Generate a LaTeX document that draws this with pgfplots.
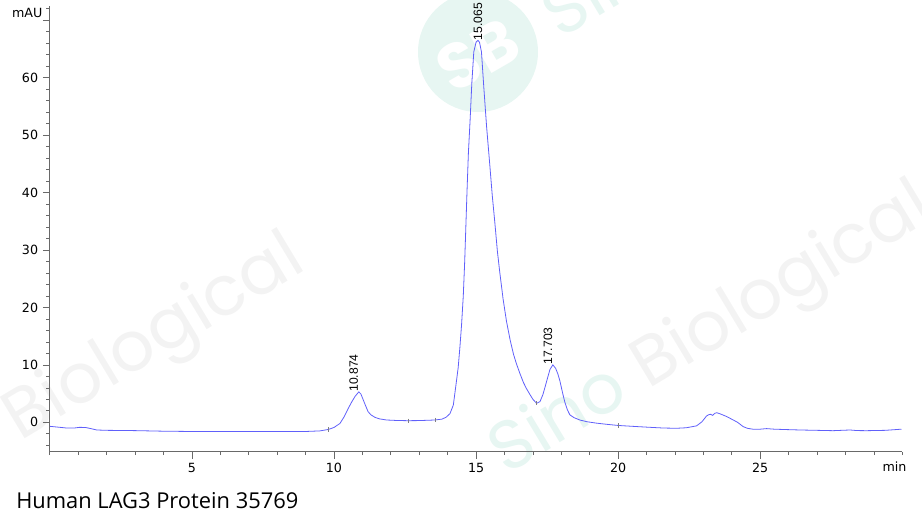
\documentclass[border=0pt]{standalone}
\usepackage{fontspec}
\setmainfont{DejaVu Sans}
\newfontfamily\peakfont{Liberation Sans}
\newfontfamily\titlefont{Open Sans}
\newfontfamily\wmfont{Poppins}
\usepackage{pgfplots}
\usepackage{pgfplotstable}
\pgfplotsset{compat=1.18}

\definecolor{trace}{RGB}{96,96,250}
\definecolor{mint}{RGB}{231,246,242}
\definecolor{wmgray}{RGB}{243,243,243}
\definecolor{axisgray}{RGB}{105,105,105}

% retention time (min), absorbance (mAU)
\pgfplotstableread{
t      mAU
0.00   -0.70
0.30   -0.85
0.60   -1.00
0.85   -1.00
1.05   -0.88
1.25   -0.90
1.45   -1.10
1.65   -1.34
2.00   -1.40
3.00   -1.45
4.00   -1.55
5.00   -1.60
6.00   -1.62
7.00   -1.62
8.00   -1.60
9.00   -1.60
9.50   -1.50
9.80   -1.25
10.00  -0.90
10.21  -0.20
10.35   0.90
10.50   2.40
10.62   3.50
10.74   4.50
10.874  5.30
10.95   4.90
11.03   3.90
11.12   2.80
11.20   1.85
11.30   1.30
11.44   0.87
11.60   0.60
11.85   0.40
12.20   0.32
12.60   0.28
13.00   0.30
13.55   0.40
13.80   0.55
13.95   0.90
14.08   1.50
14.20   3.00
14.30   6.80
14.37   9.50
14.43  13.00
14.49  17.00
14.55  22.00
14.60  28.00
14.64  34.00
14.68  40.00
14.73  46.90
14.79  52.60
14.85  59.00
14.92  64.50
15.00  66.20
15.065 66.50
15.12  66.20
15.19  64.50
15.27  58.50
15.37  51.50
15.48  45.00
15.57  39.50
15.66  34.80
15.75  29.80
15.83  26.30
15.95  21.50
16.07  17.60
16.20  14.30
16.32  11.80
16.42  10.20
16.55   8.40
16.67   6.90
16.77   5.90
16.90   4.80
17.00   4.00
17.13   3.30
17.25   3.60
17.35   4.80
17.42   6.00
17.52   7.80
17.60   9.20
17.703 10.00
17.80   9.40
17.88   8.40
17.95   7.20
18.05   5.00
18.13   3.40
18.22   2.10
18.30   1.30
18.45   0.80
18.65   0.40
18.90   0.10
19.24  -0.15
19.60  -0.35
20.00  -0.55
20.50  -0.70
21.10  -0.87
21.60  -1.00
22.06  -1.04
22.40  -0.95
22.76  -0.62
22.95   0.10
23.11   1.10
23.20   1.35
23.26   1.39
23.32   1.20
23.40   1.55
23.47   1.67
23.60   1.45
23.82   1.00
24.05   0.40
24.20   0.00
24.40  -0.75
24.55  -1.05
24.74  -1.20
25.00  -1.20
25.22  -1.10
25.50  -1.20
26.00  -1.28
26.40  -1.34
27.00  -1.40
27.56  -1.46
28.16  -1.34
28.40  -1.44
28.74  -1.46
29.40  -1.40
29.97  -1.20
}\chromdata

% integration event marks on the trace
\pgfplotstableread{
t      mAU
9.80   -1.25
12.60   0.28
13.55   0.40
17.13   3.30
20.00  -0.55
}\eventmarks

\begin{document}
\begin{tikzpicture}
% image pixel frame: x right, y down; (49.8,451.7) is the axis corner
\begin{scope}[x=0.75pt, y=-0.75pt, shift={(-37.35pt,338.775pt)}]
  \path[use as bounding box] (0,0) rectangle (922,525);
  % watermarks
  \fill[mint] (478,52) circle (60);
  \node[white, rotate=30, font=\wmfont\fontsize{48}{48}\selectfont\bfseries] at (478,55) {SB};
  \node[mint, rotate=31, anchor=base west, inner sep=0pt, font=\wmfont\fontsize{52}{52}\selectfont] at (560,40) {Sino};
  \node[wmgray, rotate=31, anchor=base west, inner sep=0pt, font=\wmfont\fontsize{52}{52}\selectfont] at (20,442) {Biological};
  \node[mint, rotate=31, anchor=base east, inner sep=0pt, font=\wmfont\fontsize{52}{52}\selectfont] at (3,454) {Sino};
  \node[wmgray, rotate=31, anchor=base west, inner sep=0pt, font=\wmfont\fontsize{52}{52}\selectfont] at (648,390) {Biological};
  \node[mint, rotate=31, anchor=base east, inner sep=0pt, font=\wmfont\fontsize{52}{52}\selectfont] at (632,400) {Sino};
  % caption
  \node[anchor=base west, inner sep=0pt, font=\titlefont\fontsize{16.4}{18}\selectfont] at (16,509) {Human LAG3 Protein 35769};
\end{scope}

\begin{axis}[
    scale only axis,
    width=639.4pt, height=334.3pt,
    xmin=0, xmax=30, ymin=-5.12, ymax=72.5,
    axis x line*=bottom, axis y line*=left,
    axis line style={axisgray, line width=0.5pt},
    xtick={5,10,...,25}, minor xtick={0,1,...,30},
    ytick={0,10,...,60}, minor ytick={-4,-2,...,72},
    extra y ticks={70}, extra y tick labels={},
    tick align=outside,
    major tick length=5.25pt, minor tick length=2.5pt,
    tick style={axisgray, line width=0.5pt},
    tick label style={font=\fontsize{9.5}{11}\selectfont, black},
    /pgf/number format/assume math mode=true,
    xlabel={min}, ylabel={mAU},
    every axis x label/.style={at={(axis description cs:1,0)}, anchor=base east,
        xshift=6.6pt, yshift=-14.7pt, font=\fontsize{9.5}{11}\selectfont},
    every axis y label/.style={at={(axis description cs:0,1)}, anchor=east,
        xshift=-2pt, yshift=-5.25pt, font=\fontsize{9.5}{11}\selectfont},
    clip=false,
]
  \addplot[trace, line width=0.6pt] table[x=t, y=mAU] {\chromdata};
  \addplot[only marks, mark=|, mark size=1.6pt, gray, mark options={line width=0.5pt}]
      table[x=t, y=mAU] {\eventmarks};
  \node[rotate=90, anchor=west, inner sep=0pt, font=\peakfont\fontsize{9.1}{11}\selectfont]
      at (axis cs:10.874,5.3) [yshift=3.75pt] {10.874};
  \node[rotate=90, anchor=west, inner sep=0pt, font=\peakfont\fontsize{9.1}{11}\selectfont]
      at (axis cs:15.065,66.5) [yshift=0pt] {15.065};
  \node[rotate=90, anchor=west, inner sep=0pt, font=\peakfont\fontsize{9.1}{11}\selectfont]
      at (axis cs:17.703,10.0) [yshift=3.75pt] {17.703};
\end{axis}
\end{tikzpicture}
\end{document}
